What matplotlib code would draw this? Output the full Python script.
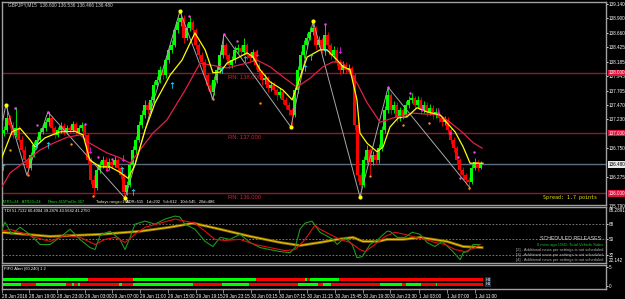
"""GBPJPY M15 trading screen: candles, MAs, zigzag, TDI and FIFO alert panels."""

import matplotlib.pyplot as plt
import numpy as np

W, H = 625, 299

# ---- price bars (one bar per slot, opens follow previous close) ----
first_open = 137.00
closes = [
    137.05, 137.25, 137.13, 136.97, 137.08, 136.89, 136.72, 136.55, 136.42, 136.64,
    136.80, 136.89, 137.02, 137.08, 137.18, 137.25, 137.08, 136.97, 137.05, 137.12,
    137.02, 137.08, 137.05, 137.15, 137.02, 137.08, 137.13, 136.97, 136.55, 136.22,
    136.09, 136.39, 136.47, 136.55, 136.42, 136.52, 136.47, 136.55, 136.42, 136.30,
    136.02, 136.14, 136.47, 136.72, 136.89, 137.13, 137.30, 137.47, 137.38, 137.55,
    137.80, 137.88, 138.05, 137.96, 138.21, 138.38, 138.46, 138.71, 138.84, 138.91,
    138.58, 138.74, 138.84, 138.71, 138.46, 138.29, 138.18, 137.96, 137.80, 137.68,
    137.88, 138.05, 138.29, 138.46, 138.29, 138.13, 138.21, 138.38, 138.41, 138.34,
    138.46, 138.29, 138.25, 138.34, 138.13, 138.01, 137.88, 137.91, 137.75, 137.80,
    137.71, 137.63, 137.68, 137.55, 137.47, 137.38, 137.30, 137.71, 138.05, 138.29,
    138.46, 138.58, 138.68, 138.74, 138.46, 138.54, 138.38, 138.63, 138.46, 138.29,
    138.38, 138.18, 138.05, 138.13, 138.05, 138.08, 137.96, 137.13, 136.30, 136.14,
    136.55, 136.72, 136.52, 136.64, 136.55, 136.75, 137.05, 137.38, 137.63, 137.38,
    137.47, 137.25, 137.38, 137.30, 137.47, 137.55, 137.58, 137.47, 137.55, 137.38,
    137.47, 137.35, 137.42, 137.30, 137.35, 137.25, 137.18, 137.22, 137.05, 136.89,
    136.75, 136.55, 136.39, 136.30, 136.22, 136.19, 136.42, 136.52, 136.42, 136.48,
]
highs = [
    137.12, 137.47, 137.30, 137.18, 137.43, 137.12, 136.95, 136.78, 136.60, 136.68,
    136.86, 136.95, 137.08, 137.15, 137.24, 137.35, 137.28, 137.12, 137.10, 137.18,
    137.16, 137.14, 137.13, 137.20, 137.18, 137.14, 137.19, 137.17, 137.00, 136.60,
    136.30, 136.45, 136.53, 136.62, 136.60, 136.58, 136.57, 136.62, 136.59, 136.46,
    136.34, 136.20, 136.52, 136.78, 136.95, 137.20, 137.38, 137.55, 137.52, 137.62,
    137.86, 137.95, 138.12, 138.10, 138.28, 138.45, 138.54, 138.78, 138.92, 139.02,
    138.95, 138.82, 138.94, 138.88, 138.75, 138.50, 138.34, 138.22, 138.00, 137.84,
    137.94, 138.12, 138.36, 138.64, 138.50, 138.33, 138.27, 138.44, 138.48, 138.46,
    138.57, 138.50, 138.35, 138.40, 138.38, 138.17, 138.05, 137.98, 137.95, 137.86,
    137.84, 137.75, 137.74, 137.72, 137.60, 137.52, 137.42, 137.76, 138.12, 138.36,
    138.54, 138.66, 138.76, 138.86, 138.78, 138.61, 138.58, 138.81, 138.67, 138.50,
    138.44, 138.42, 138.22, 138.19, 138.17, 138.14, 138.12, 138.00, 137.18, 136.36,
    136.62, 136.80, 136.76, 136.70, 136.68, 136.82, 137.12, 137.45, 137.76, 137.67,
    137.53, 137.51, 137.44, 137.42, 137.53, 137.62, 137.66, 137.62, 137.61, 137.59,
    137.53, 137.51, 137.48, 137.46, 137.41, 137.39, 137.29, 137.28, 137.26, 137.09,
    136.93, 136.79, 136.59, 136.44, 136.34, 136.27, 136.48, 136.58, 136.56, 136.53,
]
lows = [
    136.95, 137.02, 137.08, 136.92, 136.93, 136.85, 136.68, 136.50, 136.30, 136.38,
    136.60, 136.76, 136.85, 136.98, 137.03, 137.12, 137.02, 136.92, 136.93, 137.00,
    136.97, 136.98, 137.00, 137.01, 136.96, 136.98, 137.03, 136.90, 136.48, 136.15,
    135.96, 136.05, 136.34, 136.42, 136.37, 136.38, 136.42, 136.43, 136.37, 136.24,
    135.92, 135.97, 136.10, 136.42, 136.66, 136.85, 137.08, 137.25, 137.32, 137.33,
    137.50, 137.74, 137.83, 137.90, 137.92, 138.16, 138.33, 138.42, 138.66, 138.78,
    138.50, 138.54, 138.70, 138.65, 138.40, 138.22, 138.12, 137.90, 137.72, 137.56,
    137.63, 137.83, 138.00, 138.24, 138.22, 138.06, 138.08, 138.16, 138.33, 138.28,
    138.30, 138.23, 138.19, 138.20, 138.06, 137.95, 137.80, 137.82, 137.68, 137.70,
    137.64, 137.55, 137.58, 137.48, 137.40, 137.30, 137.10, 137.26, 137.66, 138.00,
    138.24, 138.42, 138.54, 138.62, 138.40, 138.42, 138.32, 138.34, 138.40, 138.22,
    138.24, 138.12, 137.98, 138.00, 137.99, 138.00, 137.90, 137.05, 136.20, 135.94,
    136.10, 136.50, 136.30, 136.47, 136.48, 136.50, 136.70, 137.00, 137.33, 137.32,
    137.33, 137.19, 137.20, 137.24, 137.26, 137.42, 137.50, 137.41, 137.42, 137.32,
    137.33, 137.29, 137.30, 137.24, 137.25, 137.19, 137.12, 137.13, 136.98, 136.82,
    136.68, 136.48, 136.32, 136.24, 136.15, 136.06, 136.15, 136.38, 136.37, 136.40,
]

# ---- overlays (bar position, price) ----
fast_ma_x = [-0.5, 2.8, 5.5, 8.8, 10.5, 13.8, 18.8, 23.8, 26.5, 28.8, 32.2, 35.5, 38.8,
             41.5, 43.8, 47.2, 50.5, 55.5, 59.5, 63.8, 67.2, 69.8, 72.2, 74.5, 77.8,
             81.2, 83.2, 85.5, 88.8, 93.2, 96.2, 98.2, 101.2, 105.5, 107.8, 111.2,
             113.2, 115.5, 117.8, 118.8, 121.2, 124.5, 126.5, 128.8, 131.5, 134.5,
             137.8, 141.2, 145.5, 147.8, 150.5, 153.2, 155.5, 159.8]
fast_ma = [136.60, 137.02, 137.08, 136.89, 136.77, 136.92, 137.02, 137.03, 136.97,
           136.55, 136.44, 136.44, 136.35, 136.25, 136.47, 137.05, 137.50, 137.96,
           138.21, 138.66, 138.38, 138.00, 138.01, 138.16, 138.24, 138.33, 138.26,
           138.05, 137.85, 137.71, 137.55, 137.83, 138.26, 138.38, 138.38, 138.21,
           138.10, 138.05, 137.55, 137.00, 136.83, 136.69, 136.77, 137.10, 137.25,
           137.27, 137.42, 137.35, 137.30, 137.17, 137.02, 136.77, 136.50, 136.50]
slow_ma_x = [-0.5, 2.2, 7.8, 12.2, 16.5, 21.2, 25.5, 28.8, 34.5, 38.8, 42.2, 45.5,
             49.8, 54.5, 60.5, 65.5, 68.8, 74.5, 81.2, 84.5, 88.8, 93.2, 97.8, 102.2,
             106.5, 109.8, 113.2, 117.8, 121.2, 125.5, 129.8, 136.5, 145.5, 148.8,
             153.2, 156.5, 159.5]
slow_ma = [136.11, 136.34, 136.55, 136.72, 136.83, 136.93, 136.97, 136.83, 136.67,
           136.59, 136.50, 136.72, 137.00, 137.22, 137.71, 138.16, 138.13, 138.08,
           138.16, 138.21, 138.10, 137.93, 137.76, 137.91, 138.10, 138.18, 138.16,
           137.83, 137.50, 137.18, 137.25, 137.33, 137.30, 137.18, 137.00, 136.84,
           136.75]
zigzag_x = [-0.5, 0.8, 7.8, 14.8, 40.5, 58.8, 69.8, 73.5, 95.8, 103.2, 118.8, 128.2, 155.5]
zigzag = [137.15, 137.47, 136.30, 137.35, 135.92, 139.02, 137.56, 138.64, 137.10,
          138.86, 135.94, 137.76, 136.09]

peak_dot_x = [0.8, 40.5, 58.8, 95.8, 103.2, 118.8]
peak_dot = [137.47, 135.92, 139.02, 137.10, 138.86, 135.94]
pink_dot_x = [3.8, 11.2, 14.8, 27.2, 31.5, 36.2, 61.8, 73.5, 77.8, 107.2, 128.2,
              135.5, 148.8, 151.5, 152.2, 156.8]
pink_dot = [137.41, 137.13, 137.35, 137.15, 136.60, 136.57, 138.94, 138.64, 138.53,
            138.81, 137.76, 137.66, 137.00, 136.60, 136.25, 136.69]
orange_dot_x = [2.2, 8.2, 22.5, 29.8, 69.8, 85.5, 122.2, 133.2, 141.8, 155.2]
orange_dot = [136.72, 136.30, 136.82, 135.96, 137.56, 137.50, 136.29, 137.13, 137.17,
              136.09]
buy_arrow_x = [-0.2, 10.8, 14.8, 39.5, 43.2, 56.2, 72.8, 80.5, 100.5, 102.5, 107.2]
buy_arrow = [136.44, 136.79, 136.80, 136.39, 136.02, 137.80, 138.05, 138.23, 138.08,
             138.26, 138.34]
sell_arrow_x = [28.8, 34.5, 39.8, 84.5, 112.2, 133.2, 139.5, 144.8]
sell_arrow = [136.72, 136.42, 136.59, 138.33, 138.38, 137.30, 137.42, 137.37]

round_levels = [138.0, 137.0, 136.0]
last_price = 136.480
price_ticks = [139.140, 138.900, 138.660, 138.425, 138.185, 137.945, 137.705,
               137.470, 137.230, 136.750, 136.275]

# ---- TDI sub-window ----
tdi_rsi_x = [-0.5, 0.5, 2.8, 5.5, 8.8, 12.2, 15.5, 18.8, 22.2, 25.5, 28.8, 30.5, 32.2,
             35.5, 38.8, 40.5, 42.2, 43.8, 47.2, 50.5, 53.8, 57.2, 58.8, 60.5, 63.8,
             67.2, 69.8, 72.2, 75.5, 78.8, 82.2, 85.5, 88.8, 92.2, 95.5, 97.2, 98.8,
             100.5, 102.8, 105.5, 109.8, 111.2, 113.8, 116.2, 117.8, 119.5, 122.2,
             124.8, 127.8, 128.8, 131.2, 133.8, 136.2, 138.8, 141.2, 143.8, 146.2,
             149.8, 152.2, 153.2, 154.8, 156.5, 158.8]
tdi_rsi = [62, 70.4, 56, 64.4, 56, 44, 44, 52.4, 62, 50, 40.4, 38, 54.8, 59.6, 50, 38,
           52.4, 68, 71.6, 68, 74, 77.6, 76.4, 68, 62, 47.6, 41.6, 52.4, 50, 56, 46.4,
           40.4, 38, 35.6, 34.4, 40.4, 62, 69.2, 71.6, 58.4, 50, 44, 52.4, 44, 28.4,
           29.6, 44, 50, 59.6, 59.6, 52.4, 52.4, 58.4, 56, 46.4, 41.6, 47.6, 35.6, 26,
           34.4, 35.6, 44, 44]
tdi_signal_x = [-0.5, 2.2, 5.5, 10.5, 15.5, 20.5, 25.5, 30.5, 33.8, 37.2, 40.5, 43.8,
                47.2, 52.2, 57.2, 60.5, 63.8, 67.2, 70.5, 73.8, 78.8, 83.8, 88.8, 93.8,
                97.2, 100.5, 103.8, 105.5, 108.8, 112.2, 115.5, 118.8, 120.5, 123.8,
                127.2, 130.5, 133.8, 137.2, 140.5, 143.8, 147.2, 150.5, 153.8, 157.2,
                158.8]
tdi_signal = [59.6, 62, 58.4, 52.4, 47.6, 54.8, 52.4, 44, 50, 52.4, 46.4, 56, 64.4,
              69.2, 74, 71.6, 69.2, 59.6, 50, 48.8, 50, 44, 40.4, 36.8, 38, 50, 66.8,
              62, 56, 50, 46.4, 38, 35.6, 44, 53.6, 58.4, 56, 52.4, 50, 46.4, 44, 38,
              35.6, 40.4, 44]
tdi_base_x = [-0.5, 15.5, 32.2, 45.5, 55.5, 63.2, 72.2, 82.2, 92.2, 98.8, 105.5, 111.2,
              116.5, 119.8, 124.8, 127.8, 133.2, 138.8, 147.8, 153.2, 159.5]
tdi_base = [58.4, 53.6, 56, 59.6, 64.4, 69.2, 62, 53.6, 46.4, 42.8, 46.4, 50, 52.4,
            47.6, 47.6, 50, 50, 52.4, 47.6, 41.6, 40.4]
tdi_levels = [68, 50, 32]

# ---- FIFO alert bars: segment edges (bar units) and colour per segment ----
fifo_top_edges = [-0.5, 28.2, 43.2, 84.2, 100.5, 101.2, 102.2, 111.8, 159.8]
fifo_top_cols = "grgrgrgr"
fifo_bot_edges = [-0.5, 5.8, 10.8, 20.8, 22.8, 23.5, 24.8, 25.5, 38.5, 39.5, 43.2, 63.2,
                  72.8, 81.8, 98.2, 104.8, 106.5, 109.2, 125.5, 132.8, 134.2, 139.2,
                  144.2, 144.5, 159.8]
fifo_bot_cols = "grgrgrgrgrgrgrgrgrgrgrgr"

time_x = [-0.5, 8.5, 17.8, 27.2, 36.2, 45.5, 54.8, 64.2, 73.2, 82.5, 91.8, 101.2,
          110.5, 119.8, 128.8, 138.5, 147.8, 157.2]
time_labels = ["28 Jun 2016", "28 Jun 19:00", "28 Jun 23:00", "29 Jun 03:00",
               "29 Jun 07:00", "29 Jun 11:00", "29 Jun 15:00", "29 Jun 19:15",
               "29 Jun 23:15", "30 Jun 03:15", "30 Jun 07:15", "30 Jun 11:15",
               "30 Jun 15:45", "30 Jun 19:30", "30 Jun 23:30", "1 Jul 03:00",
               "1 Jul 07:00", "1 Jul 11:00"]

plt.rcParams["font.family"] = ["Liberation Sans Narrow", "Liberation Sans", "DejaVu Sans"]
BULL, BEAR = "#00ff00", "#ff0000"
FRAME = "#a0a0a0"
XLIM = (-0.5, 200.8)
TICK_FS = 3.3
LABEL_X = 608.5


def px_box(top, bottom, left=2, right=606):
    return [left / W, 1 - bottom / H, (right - left) / W, (bottom - top) / H]


def ftext(x, y, s, **kw):
    kw.setdefault("fontsize", TICK_FS)
    kw.setdefault("color", "white")
    fig.text(x / W, 1 - y / H, s, va="center", **kw)


def style(ax):
    ax.set_facecolor("black")
    for sp in ax.spines.values():
        sp.set_color(FRAME)
        sp.set_linewidth(1.0)
    ax.set_xlim(*XLIM)
    ax.tick_params(axis="x", bottom=False, labelbottom=False)
    ax.yaxis.tick_right()
    ax.tick_params(axis="y", colors="white", labelsize=TICK_FS, length=1.3, pad=0.5,
                   width=0.6)


fig = plt.figure(figsize=(W / 100, H / 100), dpi=100, facecolor="black")

# ---------------- main price window ----------------
ax = fig.add_axes(px_box(2, 205))
style(ax)
ax.set_ylim(135.807, 139.173)
ax.set_yticks(price_ticks, [f"{v:.3f}" for v in price_ticks])

for lvl in round_levels:
    ax.axhline(lvl, color="#8b1a2b", lw=1.0, zorder=1)
    ax.text(74.8, lvl - 0.03, f"RN: {lvl:.3f}", color="#c8282d", fontsize=4.2,
            va="top", zorder=2)
    ax.text(1.004, lvl, f"{lvl:.3f}", transform=ax.get_yaxis_transform(),
            color="white", fontsize=TICK_FS, va="center", ha="left", clip_on=False,
            bbox=dict(facecolor="#dc143c", edgecolor="none", pad=0.5))
ax.axhline(last_price, color="#5f6f7f", lw=1.0, zorder=1)
ax.text(1.004, last_price, f"{last_price:.3f}", transform=ax.get_yaxis_transform(),
        color="black", fontsize=TICK_FS, va="center", ha="left", clip_on=False,
        bbox=dict(facecolor="#e8e8e8", edgecolor="none", pad=0.5))

c = np.array(closes)
o = np.array([first_open] + closes[:-1])
xb = np.arange(len(c))
cols = np.where(c >= o, BULL, BEAR)
ax.vlines(xb, lows, highs, colors=cols, lw=0.6, zorder=3)
ax.bar(xb, np.maximum(np.abs(c - o), 0.012), bottom=np.minimum(o, c), width=0.72,
       color=cols, zorder=3)

ax.plot(zigzag_x, zigzag, color="#a8a8a8", lw=0.7, zorder=4)
ax.plot(slow_ma_x, slow_ma, color="#e0204a", lw=0.9, zorder=5)
ax.plot(fast_ma_x, fast_ma, color="#ffff00", lw=0.9, zorder=6)

ax.scatter(peak_dot_x, peak_dot, s=9, color="#ffff00", zorder=7, lw=0)
ax.scatter(pink_dot_x, pink_dot, s=3, color="#ff40ff", zorder=7, lw=0)
ax.scatter(orange_dot_x, orange_dot, s=3, color="#ff8c1a", zorder=7, lw=0)
ax.scatter(buy_arrow_x, buy_arrow, s=22, marker=r"$\uparrow$", color="#20e0ff",
           zorder=7, lw=0)
ax.scatter(sell_arrow_x, sell_arrow, s=22, marker=r"$\downarrow$", color="#ff20ff",
           zorder=7, lw=0)

ftext(8, 5, "GBPJPY,M15  136.600 136.536 136.466 136.480", color="#d0d0d0", fontsize=3.4)
ftext(543, 197, "Spread: 1.7 points", color="#e6e600", fontsize=3.6,
      family="DejaVu Sans Mono")
ftext(2, 202, "ATR5=24   ATR20=24", color="#20e020", fontsize=2.9)
ftext(48, 202, "Pmus:415PmDn:307", color="#20e020", fontsize=2.9)
ftext(96, 202, "Todays range=168", color="#f0f0a0", fontsize=2.9)
ftext(126, 202, "ADR=515   1d=202   5d=612   10d=545   20d=486", color="white",
      fontsize=2.9)
ftext(LABEL_X, 206, "135.790")

# ---------------- TDI window ----------------
at = fig.add_axes(px_box(207, 263))
style(at)
at.set_ylim(22.142, 88.2891)
at.set_yticks(tdi_levels, [str(v) for v in tdi_levels])
for lvl in tdi_levels:
    at.axhline(lvl, color="#8c8c8c", lw=0.6, ls=(0, (2, 2)), zorder=1)
at.plot(tdi_base_x, tdi_base, color="#8a6a00", lw=2.0, zorder=2)
at.plot(tdi_base_x, tdi_base, color="#e6c200", lw=0.8, zorder=3)
at.plot(tdi_rsi_x, tdi_rsi, color="#1a9a1a", lw=0.8, zorder=4)
at.plot(tdi_signal_x, tdi_signal, color="#e01010", lw=0.8, zorder=5)
ftext(4, 211, "TDI 51.7132 60.4004 39.2876 43.5642 41.2750", fontsize=3.0)
ftext(LABEL_X, 210.5, "88.2891")
ftext(LABEL_X, 260, "22.142")
ftext(603, 239, "SCHEDULED RELEASES:", color="#d8d8d8", fontsize=3.8, ha="right")
ftext(603, 245, "0 mins ago USD: Total Vehicle Sales", color="#20c020", fontsize=3.0,
      ha="right")
for k, yy in zip((2, 3, 4), (250, 255, 260)):
    ftext(603, yy, f"[{k}] - Additional news per settings is not scheduled",
          color="#b0b0b0", fontsize=2.9, ha="right")

# ---------------- FIFO alert window ----------------
af = fig.add_axes(px_box(265, 289))
style(af)
af.set_ylim(-0.79, 5.53)
af.set_yticks([0, 5], ["0", "5"])
for edges, cseq, (y0, hgt) in ((fifo_top_edges, fifo_top_cols, (1.32, 0.78)),
                               (fifo_bot_edges, fifo_bot_cols, (0.0, 0.79))):
    segs = [(a, b - a) for a, b in zip(edges[:-1], edges[1:])]
    fc = [BULL if ch == "g" else BEAR for ch in cseq[:len(segs)]]
    af.broken_barh(segs, (y0, hgt), facecolors=fc, edgecolor="none")
af.text(160.6, 1.7, "H4", color="white", fontsize=3.0, va="center",
        bbox=dict(facecolor="#203040", edgecolor="none", pad=0.3))
af.text(160.6, 0.4, "H1", color="white", fontsize=3.0, va="center",
        bbox=dict(facecolor="#203040", edgecolor="none", pad=0.3))
ftext(4, 269, "FIFO Alert (60,240) 1 2", fontsize=3.0)

af.tick_params(axis="x", bottom=True, labelbottom=True, colors=FRAME, length=3,
               width=0.6, pad=0.5, labelsize=3.3, labelcolor="white")
af.set_xticks(time_x, time_labels)
for lab in af.get_xticklabels():
    lab.set_horizontalalignment("left")

fig.savefig("out.png", dpi=100, facecolor="black")
